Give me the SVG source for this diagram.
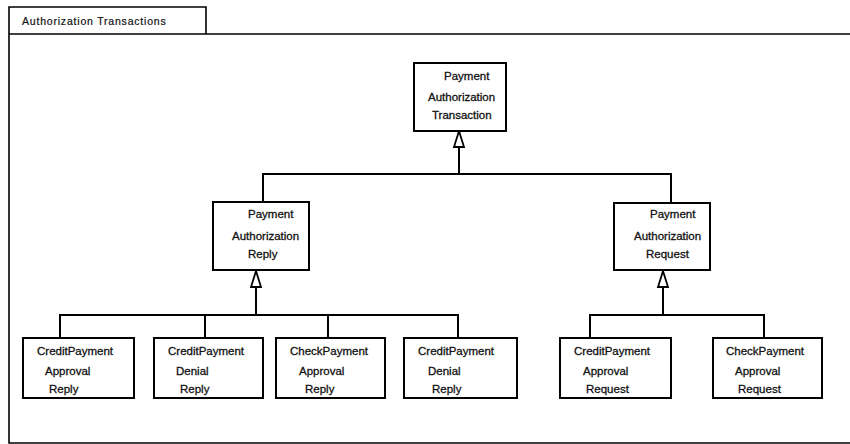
<svg xmlns="http://www.w3.org/2000/svg" width="850" height="444" viewBox="0 0 850 444">
  <style>
    .frame { fill: none; stroke: #000; stroke-width: 1.6; }
    .box { fill: #fff; stroke: #000; stroke-width: 2; }
    .line { fill: none; stroke: #000; stroke-width: 2; }
    .tri { fill: #fff; stroke: #000; stroke-width: 1.8; stroke-linejoin: miter; }
    text { font-family: "Liberation Sans", Arial, sans-serif; font-size: 11.5px; fill: #111; stroke: #111; stroke-width: 0.3; }
    .tab { font-size: 10.5px; letter-spacing: 0.8px; stroke-width: 0.2; }
  </style>

  <rect width="850" height="444" fill="#fff"/>

  <!-- package frame with tab -->
  <g id="frame">
    <path class="frame" d="M9,34 V7 H206 V34"/>
    <path class="frame" d="M9,34 H850 M9,34 V443 H850"/>
    <text class="tab" x="22" y="25">Authorization Transactions</text>
  </g>

  <!-- generalization connectors: tree lines plus hollow triangle heads -->
  <g id="connectors">
    <path class="line" d="M263,202 V174 H671 V203"/>
    <path class="line" d="M459,174 V147"/>
    <path class="tri" d="M459,131 L464,147 L454,147 Z"/>
    <path class="line" d="M60,338 V315 H458 V338 M205,315 V338 M328,315 V338"/>
    <path class="line" d="M256,315 V287"/>
    <path class="tri" d="M256,271 L261,287 L251,287 Z"/>
    <path class="line" d="M590,338 V315 H764 V338"/>
    <path class="line" d="M663,315 V287"/>
    <path class="tri" d="M663,271 L668,287 L658,287 Z"/>
  </g>

  <g id="payment-authorization-transaction">
    <rect class="box" x="414" y="63" width="92" height="68"/>
    <text x="444" y="80">Payment</text>
    <text x="428" y="101">Authorization</text>
    <text x="432" y="119">Transaction</text>
  </g>

  <g id="payment-authorization-reply">
    <rect class="box" x="213" y="202" width="96" height="68"/>
    <text x="248" y="218">Payment</text>
    <text x="232" y="240">Authorization</text>
    <text x="248" y="258">Reply</text>
  </g>

  <g id="payment-authorization-request">
    <rect class="box" x="614" y="203" width="96" height="67"/>
    <text x="650" y="218">Payment</text>
    <text x="634" y="240">Authorization</text>
    <text x="646" y="258">Request</text>
  </g>

  <g id="credit-payment-approval-reply">
    <rect class="box" x="23" y="338" width="111" height="60"/>
    <text x="37" y="355">CreditPayment</text>
    <text x="45" y="375">Approval</text>
    <text x="49" y="393">Reply</text>
  </g>

  <g id="credit-payment-denial-reply-1">
    <rect class="box" x="154" y="338" width="109" height="60"/>
    <text x="168" y="355">CreditPayment</text>
    <text x="176" y="375">Denial</text>
    <text x="180" y="393">Reply</text>
  </g>

  <g id="check-payment-approval-reply">
    <rect class="box" x="276" y="338" width="109" height="60"/>
    <text x="290" y="355">CheckPayment</text>
    <text x="299" y="375">Approval</text>
    <text x="305" y="393">Reply</text>
  </g>

  <g id="credit-payment-denial-reply-2">
    <rect class="box" x="404" y="338" width="113" height="60"/>
    <text x="418" y="355">CreditPayment</text>
    <text x="428" y="375">Denial</text>
    <text x="432" y="393">Reply</text>
  </g>

  <g id="credit-payment-approval-request">
    <rect class="box" x="560" y="338" width="111" height="60"/>
    <text x="574" y="355">CreditPayment</text>
    <text x="583" y="375">Approval</text>
    <text x="586" y="393">Request</text>
  </g>

  <g id="check-payment-approval-request">
    <rect class="box" x="713" y="338" width="109" height="60"/>
    <text x="726" y="355">CheckPayment</text>
    <text x="735" y="375">Approval</text>
    <text x="738" y="393">Request</text>
  </g>
</svg>
